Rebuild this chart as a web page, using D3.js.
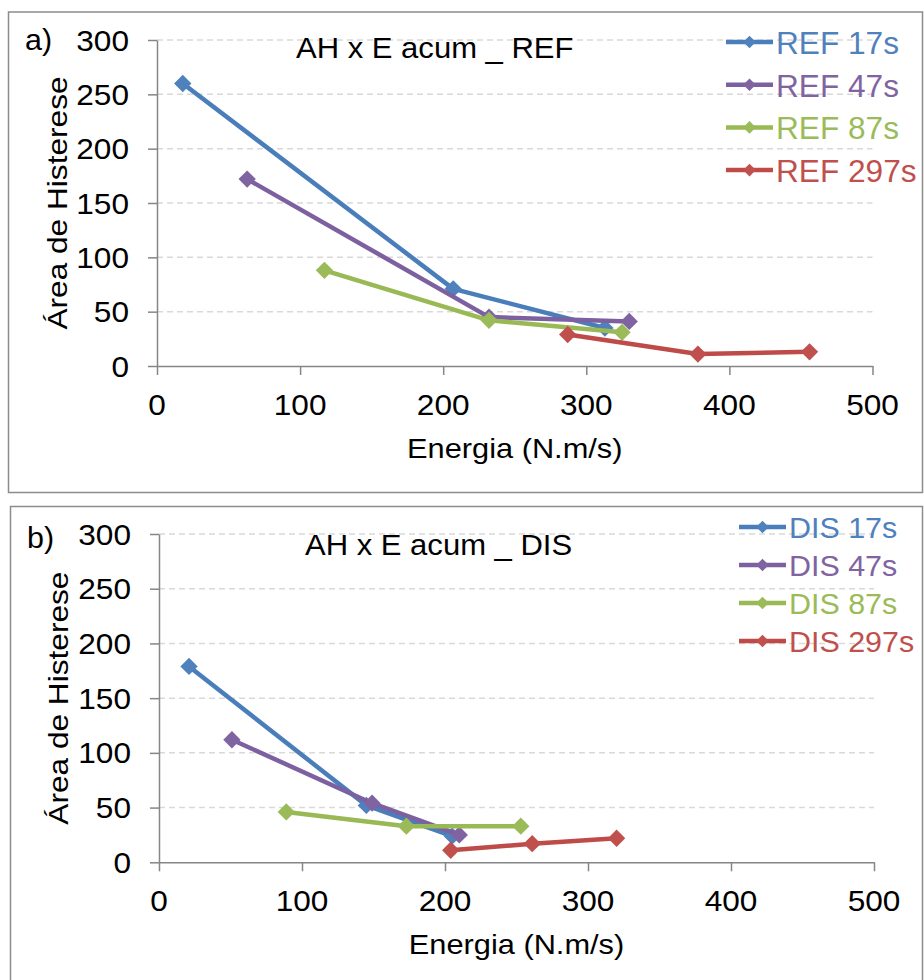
<!DOCTYPE html>
<html>
<head>
<meta charset="utf-8">
<script src="https://cdn.jsdelivr.net/npm/d3@7"></script>
<style>
  body { margin: 0; background: #fff; }
  svg { display: block; font-family: "Liberation Sans", Arial, sans-serif; }
</style>
</head>
<body>
<div id="chart"></div>
<script>
// ticks
const xTicks = [0, 100, 200, 300, 400, 500];
const yTicks = [0, 50, 100, 150, 200, 250, 300];

// series names (same times in both panels)
const seriesTimes = ["17s", "47s", "87s", "297s"];
const lineColors = ["#4A7EBB", "#7D60A0", "#98B954", "#BE4B48"];
const markColors = ["#4F81BD", "#8064A2", "#9BBB59", "#C0504D"];

// panel a) REF : [Energia, Area de Histerese]
const ref17 = [[18, 260], [207, 71], [313, 35]];
const ref47 = [[63, 172], [232, 45], [330, 41]];
const ref87 = [[117, 88], [232, 42], [325, 31]];
const ref297 = [[287, 29], [378, 11], [456, 13]];

// panel b) DIS
const dis17 = [[21, 179], [145, 52], [205, 24]];
const dis47 = [[51, 112], [149, 54], [210, 25]];
const dis87 = [[89, 46], [173, 33], [253, 33]];
const dis297 = [[204, 11], [261, 17], [320, 22]];

const W = 924, H = 980;
const svg = d3.select("#chart").append("svg")
  .attr("width", W)
  .attr("height", H);

// text helper: Excel renders these a bit wider than Liberation Sans, so stretch along the text
function addText(g, x, y, str, size, opts = {}) {
  const sx = opts.sx || 1;
  const rot = opts.rotate ? ` rotate(${opts.rotate})` : "";
  return g.append("text")
    .attr("transform", `translate(${x},${y})${rot} scale(${sx},1)`)
    .attr("text-anchor", opts.anchor || "start")
    .attr("fill", opts.fill || "#000")
    .style("font-size", size + "px")
    .text(str);
}

function drawPanel(cfg) {
  const g = svg.append("g");

  // panel frame
  g.append("rect")
    .attr("x", cfg.box[0]).attr("y", cfg.box[1])
    .attr("width", cfg.box[2]).attr("height", cfg.box[3])
    .attr("fill", "#fff")
    .attr("stroke", "#8c8c8c")
    .attr("stroke-width", 1.5);

  const x = d3.scaleLinear().domain([0, 500]).range([cfg.x0, cfg.x1]);
  const y = d3.scaleLinear().domain([0, 300]).range([cfg.y0, cfg.y1]);

  // dashed gridlines
  g.append("g").selectAll("line")
    .data(yTicks.filter(d => d > 0))
    .join("line")
    .attr("x1", x(0)).attr("x2", x(500))
    .attr("y1", d => y(d)).attr("y2", d => y(d))
    .attr("stroke", "#d9d9d9")
    .attr("stroke-width", 1.5)
    .attr("stroke-dasharray", "6,4");

  // axes
  const yAxis = g.append("g")
    .attr("transform", `translate(${x(0)},0)`)
    .call(d3.axisLeft(y).tickValues(yTicks).tickSize(9).tickSizeOuter(0).tickFormat(""));
  const xAxis = g.append("g")
    .attr("transform", `translate(0,${y(0)})`)
    .call(d3.axisBottom(x).tickValues(xTicks).tickSize(9).tickSizeOuter(0).tickFormat(""));
  [yAxis, xAxis].forEach(a => {
    a.selectAll("path, line").attr("stroke", "#868686").attr("stroke-width", 1.5);
  });

  // tick labels
  yTicks.forEach(v => addText(g, x(0) - 28, y(v) + 10.5, v, 29, { anchor: "end", sx: 1.09 }));
  xTicks.forEach(v => addText(g, x(v), y(0) + 49, v, 29, { anchor: "middle", sx: 1.09 }));

  // axis titles
  addText(g, (x(0) + x(500)) / 2, y(0) + 92, "Energia (N.m/s)", 27, { anchor: "middle", sx: 1.14 });
  addText(g, cfg.yTitleX, (y(0) + y(300)) / 2, "Área de Histerese", 28, { anchor: "middle", sx: 1.13, rotate: -90 });

  // panel letter + title
  addText(g, cfg.letterPos[0], cfg.letterPos[1], cfg.letter, 29, { sx: 1.05 });
  addText(g, cfg.titlePos[0], cfg.titlePos[1], cfg.title, 29, { sx: 1.07 });

  // series
  const line = d3.line().x(d => x(d[0])).y(d => y(d[1]));
  const diamond = d3.symbol(d3.symbolSquare, 150);
  cfg.series.forEach((s, i) => {
    g.append("path")
      .datum(s)
      .attr("d", line)
      .attr("fill", "none")
      .attr("stroke", lineColors[i])
      .attr("stroke-width", 4.5)
      .attr("stroke-linejoin", "round");
    g.append("g").selectAll("path")
      .data(s)
      .join("path")
      .attr("d", diamond)
      .attr("transform", d => `translate(${x(d[0])},${y(d[1])}) rotate(45)`)
      .attr("fill", markColors[i]);
  });

  // legend
  const lg = cfg.legend;
  seriesTimes.forEach((t, i) => {
    const ly = lg.y + i * lg.step;
    g.append("line")
      .attr("x1", lg.x).attr("x2", lg.x + 47)
      .attr("y1", ly).attr("y2", ly)
      .attr("stroke", lineColors[i])
      .attr("stroke-width", 4.5);
    g.append("path")
      .attr("d", d3.symbol(d3.symbolSquare, 80)())
      .attr("transform", `translate(${lg.x + 23.5},${ly}) rotate(45)`)
      .attr("fill", markColors[i]);
    addText(g, lg.x + 50, ly + lg.dy, `${cfg.prefix} ${t}`, lg.size, { fill: markColors[i], sx: lg.sx });
  });
}

drawPanel({
  box: [8.5, 12, 914, 480.5],
  x0: 157, x1: 872.5, y0: 366, y1: 40,
  yTitleX: 67,
  letter: "a)", letterPos: [25, 50],
  title: "AH x E acum _ REF", titlePos: [296, 58],
  prefix: "REF",
  series: [ref17, ref47, ref87, ref297],
  legend: { x: 726, y: 42, step: 42.7, dy: 12, size: 31, sx: 1.02 }
});

drawPanel({
  box: [10.5, 506.5, 912, 480],
  x0: 159, x1: 874, y0: 862.3, y1: 534,
  yTitleX: 68,
  letter: "b)", letterPos: [27, 548],
  title: "AH x E acum _ DIS", titlePos: [305, 555],
  prefix: "DIS",
  series: [dis17, dis47, dis87, dis297],
  legend: { x: 739, y: 527, step: 38, dy: 11, size: 29, sx: 1.05 }
});
</script>
</body>
</html>
